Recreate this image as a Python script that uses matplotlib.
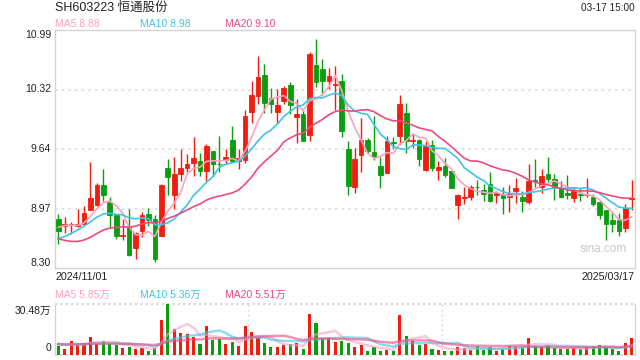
import numpy as np
import pandas as pd
import matplotlib
matplotlib.use("Agg")
import matplotlib.pyplot as plt

plt.rcParams['font.family'] = ['Liberation Sans', 'Noto Sans CJK SC', 'DejaVu Sans']

# ---------------- data ----------------
title = "SH603223 恒通股份"
timestamp = "03-17 15:00"
start_label = "2024/11/01"
end_label = "2025/03/17"

opens = [8.85, 8.77, 8.79, 8.78, 8.80, 8.96, 9.01, 9.24, 9.05, 8.90,
         8.66, 8.76, 8.53, 8.72, 8.91, 8.85, 8.66, 9.43, 9.12, 9.36,
         9.43, 9.49, 9.51, 9.40, 9.62, 9.48, 9.52, 9.75, 9.51, 9.52,
         10.06, 10.24, 10.48, 10.22, 10.06, 10.19, 10.37, 10.01, 10.04, 9.80,
         10.59, 10.55, 10.41, 10.37, 10.41, 9.64, 9.22, 9.58, 9.75, 9.61,
         9.45, 9.37, 9.72, 9.79, 10.05, 9.74, 9.75, 9.41, 9.69, 9.41,
         9.45, 9.40, 9.01, 9.09, 9.10, 9.22, 9.18, 9.25, 9.12, 9.12,
         9.10, 9.17, 9.10, 9.05, 9.30, 9.21, 9.36, 9.31, 9.19, 9.15,
         9.09, 9.14, 9.12, 9.10, 9.05, 8.96, 8.84, 8.84, 8.75, 9.08]
highs = [8.91, 8.88, 8.82, 8.97, 9.00, 9.50, 9.26, 9.42, 9.10, 8.90,
         8.85, 8.97, 8.71, 8.93, 8.98, 8.90, 9.25, 9.53, 9.56, 9.65,
         9.59, 9.78, 9.60, 9.70, 9.62, 9.79, 9.65, 9.91, 9.65, 10.09,
         10.41, 10.70, 10.61, 10.33, 10.32, 10.36, 10.40, 10.21, 10.07, 10.74,
         10.89, 10.66, 10.56, 10.58, 10.49, 9.73, 9.66, 10.00, 9.77, 10.02,
         9.55, 9.79, 9.78, 10.25, 10.16, 9.81, 9.76, 9.73, 9.75, 9.51,
         9.54, 9.40, 9.14, 9.22, 9.24, 9.29, 9.25, 9.39, 9.17, 9.21,
         9.24, 9.32, 9.17, 9.48, 9.53, 9.42, 9.55, 9.36, 9.28, 9.35,
         9.21, 9.20, 9.32, 9.14, 9.06, 8.96, 8.92, 8.92, 9.02, 9.29]
lows = [8.57, 8.69, 8.68, 8.76, 8.79, 8.95, 9.00, 9.06, 8.75, 8.63,
        8.62, 8.44, 8.40, 8.65, 8.78, 8.37, 8.66, 9.12, 8.97, 9.28,
        9.38, 9.34, 9.34, 9.28, 9.34, 9.38, 9.47, 9.50, 9.42, 9.49,
        9.94, 10.15, 10.05, 10.05, 9.93, 10.15, 10.04, 9.71, 9.74, 9.73,
        10.35, 10.26, 10.32, 10.09, 9.78, 9.12, 9.15, 9.38, 9.60, 9.52,
        9.20, 9.37, 9.64, 9.70, 9.60, 9.66, 9.45, 9.40, 9.40, 9.29,
        9.33, 9.20, 8.85, 9.02, 9.07, 9.13, 9.06, 9.05, 9.04, 8.91,
        8.93, 9.04, 8.93, 9.02, 9.21, 9.15, 9.27, 9.07, 9.09, 9.08,
        9.05, 9.06, 9.10, 9.00, 8.85, 8.62, 8.71, 8.66, 8.71, 8.95]
closes = [8.72, 8.80, 8.80, 8.80, 8.92, 9.09, 9.24, 9.13, 8.90, 8.66,
          8.67, 8.45, 8.70, 8.90, 8.84, 8.40, 9.24, 9.33, 9.36, 9.43,
          9.47, 9.54, 9.40, 9.68, 9.47, 9.47, 9.56, 9.51, 9.54, 10.02,
          10.25, 10.46, 10.16, 10.15, 10.14, 10.33, 10.14, 10.04, 9.74, 10.72,
          10.40, 10.41, 10.47, 10.38, 9.85, 9.23, 9.53, 9.75, 9.62, 9.56,
          9.35, 9.74, 9.71, 10.15, 9.74, 9.75, 9.53, 9.68, 9.43, 9.44,
          9.35, 9.20, 9.12, 9.10, 9.21, 9.21, 9.14, 9.06, 9.15, 9.09,
          9.14, 9.20, 9.06, 9.28, 9.28, 9.34, 9.31, 9.21, 9.10, 9.12,
          9.18, 9.12, 9.13, 9.02, 8.90, 8.80, 8.80, 8.72, 8.98, 9.09]
# volume in 万 (10k shares)
volumes = [5.4, 3.6, 8.4, 6.0, 7.2, 10.8, 6.6, 8.4, 6.6, 6.2,
           4.2, 4.8, 3.6, 4.4, 2.4, 4.4, 20.9, 30.48, 15.3, 13.3,
           12.5, 10.8, 6.6, 17.3, 9.0, 9.6, 6.6, 7.8, 5.4, 17.3,
           13.9, 10.4, 7.2, 4.8, 4.8, 5.8, 6.4, 7.2, 3.6, 24.7,
           19.3, 10.0, 10.0, 8.0, 8.6, 7.2, 4.8, 6.0, 2.4, 5.0,
           2.4, 3.0, 2.4, 23.9, 11.4, 8.6, 6.0, 6.6, 3.6, 3.0,
           2.4, 2.4, 4.8, 4.2, 3.0, 5.4, 3.0, 4.8, 2.4, 3.6,
           5.6, 5.6, 5.6, 10.2, 5.4, 4.8, 5.8, 4.2, 3.6, 3.6,
           4.2, 3.6, 4.8, 5.4, 6.0, 4.8, 3.6, 2.4, 7.2, 10.2]
# estimated sessions before the window (only used to warm up moving averages)
prior_closes = [9.15, 9.05, 8.80, 8.60, 8.45, 8.40, 8.35, 8.45, 8.50, 8.55,
                8.55, 8.45, 8.40, 8.50, 8.60, 8.70, 8.78, 8.82, 8.78]
prior_volumes = [6.0, 7.5, 5.5, 6.8, 7.2, 6.0, 5.8, 7.0, 6.5, 6.2,
                 7.4, 5.9, 6.6, 7.1, 6.3, 6.8, 7.0, 6.4, 6.9]

price_ticks = [8.30, 8.9725, 9.645, 10.3175, 10.99]
price_tick_labels = ["8.30", "8.97", "9.64", "10.32", "10.99"]
vol_max = 30.48
vol_tick_labels = ["0", "30.48万"]
ma_windows = [5, 10, 20]
price_ma_labels = ["MA5 8.88", "MA10 8.98", "MA20 9.10"]
vol_ma_labels = ["MA5 5.85万", "MA10 5.36万", "MA20 5.51万"]

# ---------------- style ----------------
RED = '#f31d0f'
GREEN = '#0a9e0f'
MA_COLORS = ['#fba2bf', '#3ec5e6', '#ee4a80']
BORDER = '#d4d4d4'
GRID = '#dcdcdc'
TXT = '#222222'

W, H = 640, 360
fig = plt.figure(figsize=(W / 100, H / 100), dpi=100)

def fx(px):
    return px / W

def fy(py):
    return 1 - py / H

L, R = 55, 635
ax = fig.add_axes([fx(L), fy(268), fx(R - L), (268 - 30) / H])
axv = fig.add_axes([fx(L), fy(355), fx(R - L), (355 - 304) / H])

n = len(closes)
x = np.arange(n)
o = np.array(opens); c = np.array(closes)
hi = np.array(highs); lo = np.array(lows)
up = c >= o
cols = np.where(up, RED, GREEN)

# moving averages
cs = pd.Series(prior_closes + closes)
vs = pd.Series(prior_volumes + volumes)
k = len(prior_closes)

# ---- price panel ----
ax.set_xlim(-0.5, n - 0.5)
ax.set_ylim(price_ticks[0], price_ticks[-1])
for t in price_ticks[1:-1]:
    ax.axhline(t, color=GRID, lw=1.2, ls=(0, (1.5, 2.5)), zorder=0)
ax.vlines(x, lo, hi, colors=cols, lw=1.0, zorder=2)
ax.bar(x, np.abs(c - o), bottom=np.minimum(o, c), width=0.72,
       color=cols, edgecolor=cols, linewidth=0.6, zorder=3)
for w, col in zip(ma_windows, MA_COLORS):
    ma = cs.rolling(w).mean().to_numpy()[k:]
    ax.plot(x, ma, color=col, lw=1.2, zorder=4)
ax.set_xticks([]); ax.set_yticks([])
for s in ax.spines.values():
    s.set_color(BORDER); s.set_linewidth(1.0)
ax.text(0.945, 0.08, "sina.com", transform=ax.transAxes, ha='center', va='center',
        fontsize=8.5, color='#c9c9c9')

# ---- volume panel ----
axv.set_xlim(-0.5, n - 0.5)
axv.set_ylim(0, vol_max)
vcols = cols
axv.bar(x, volumes, width=0.48, color=vcols, linewidth=0, zorder=3)
for w, col in zip(ma_windows, MA_COLORS):
    ma = vs.rolling(w).mean().to_numpy()[k:]
    axv.plot(x, ma, color=col, lw=1.8, alpha=0.6, zorder=4)
axv.set_xticks([]); axv.set_yticks([])
for side in ['top', 'bottom']:
    axv.spines[side].set_visible(False)
for side in ['left', 'right']:
    axv.spines[side].set_color(BORDER); axv.spines[side].set_linewidth(1.0)
axv.axhline(vol_max, color=GRID, lw=1.6, ls=(0, (1.2, 1.2)), zorder=1, clip_on=False)
axv.axhline(0, color=GRID, lw=1.6, ls=(0, (1.2, 1.2)), zorder=1, clip_on=False)
for t in [n / 3 - 0.5, 2 * n / 3 - 0.5]:
    axv.axvline(t, color=GRID, lw=1.0, ls=(0, (1.5, 2.0)), zorder=0)

# ---- texts ----
fig.text(fx(55), fy(8), title, ha='left', va='center', fontsize=9, color=TXT)
fig.text(fx(635), fy(8), timestamp, ha='right', va='center', fontsize=7.2, color=TXT)
leg_x = [55, 140, 225]
for lx, lab, col in zip(leg_x, price_ma_labels, MA_COLORS):
    fig.text(fx(lx), fy(24), lab, ha='left', va='center', fontsize=7.5, color=col)
for lx, lab, col in zip(leg_x, vol_ma_labels, MA_COLORS):
    fig.text(fx(lx), fy(295), lab, ha='left', va='center', fontsize=7.5, color=col)

ypix = [263, 208.5, 149, 89.5, 35]
for yp, lab in zip(ypix, price_tick_labels):
    fig.text(fx(51), fy(yp), lab, ha='right', va='center', fontsize=7.5, color=TXT)
fig.text(fx(51), fy(348), vol_tick_labels[0], ha='right', va='center', fontsize=7.5, color=TXT)
fig.text(fx(51), fy(310.5), vol_tick_labels[1], ha='right', va='center', fontsize=7.5, color=TXT)

fig.text(fx(55), fy(277.5), start_label, ha='left', va='center', fontsize=7.7, color=TXT)
fig.text(fx(635), fy(277.5), end_label, ha='right', va='center', fontsize=7.7, color=TXT)

fig.savefig("out.png", dpi=100)
